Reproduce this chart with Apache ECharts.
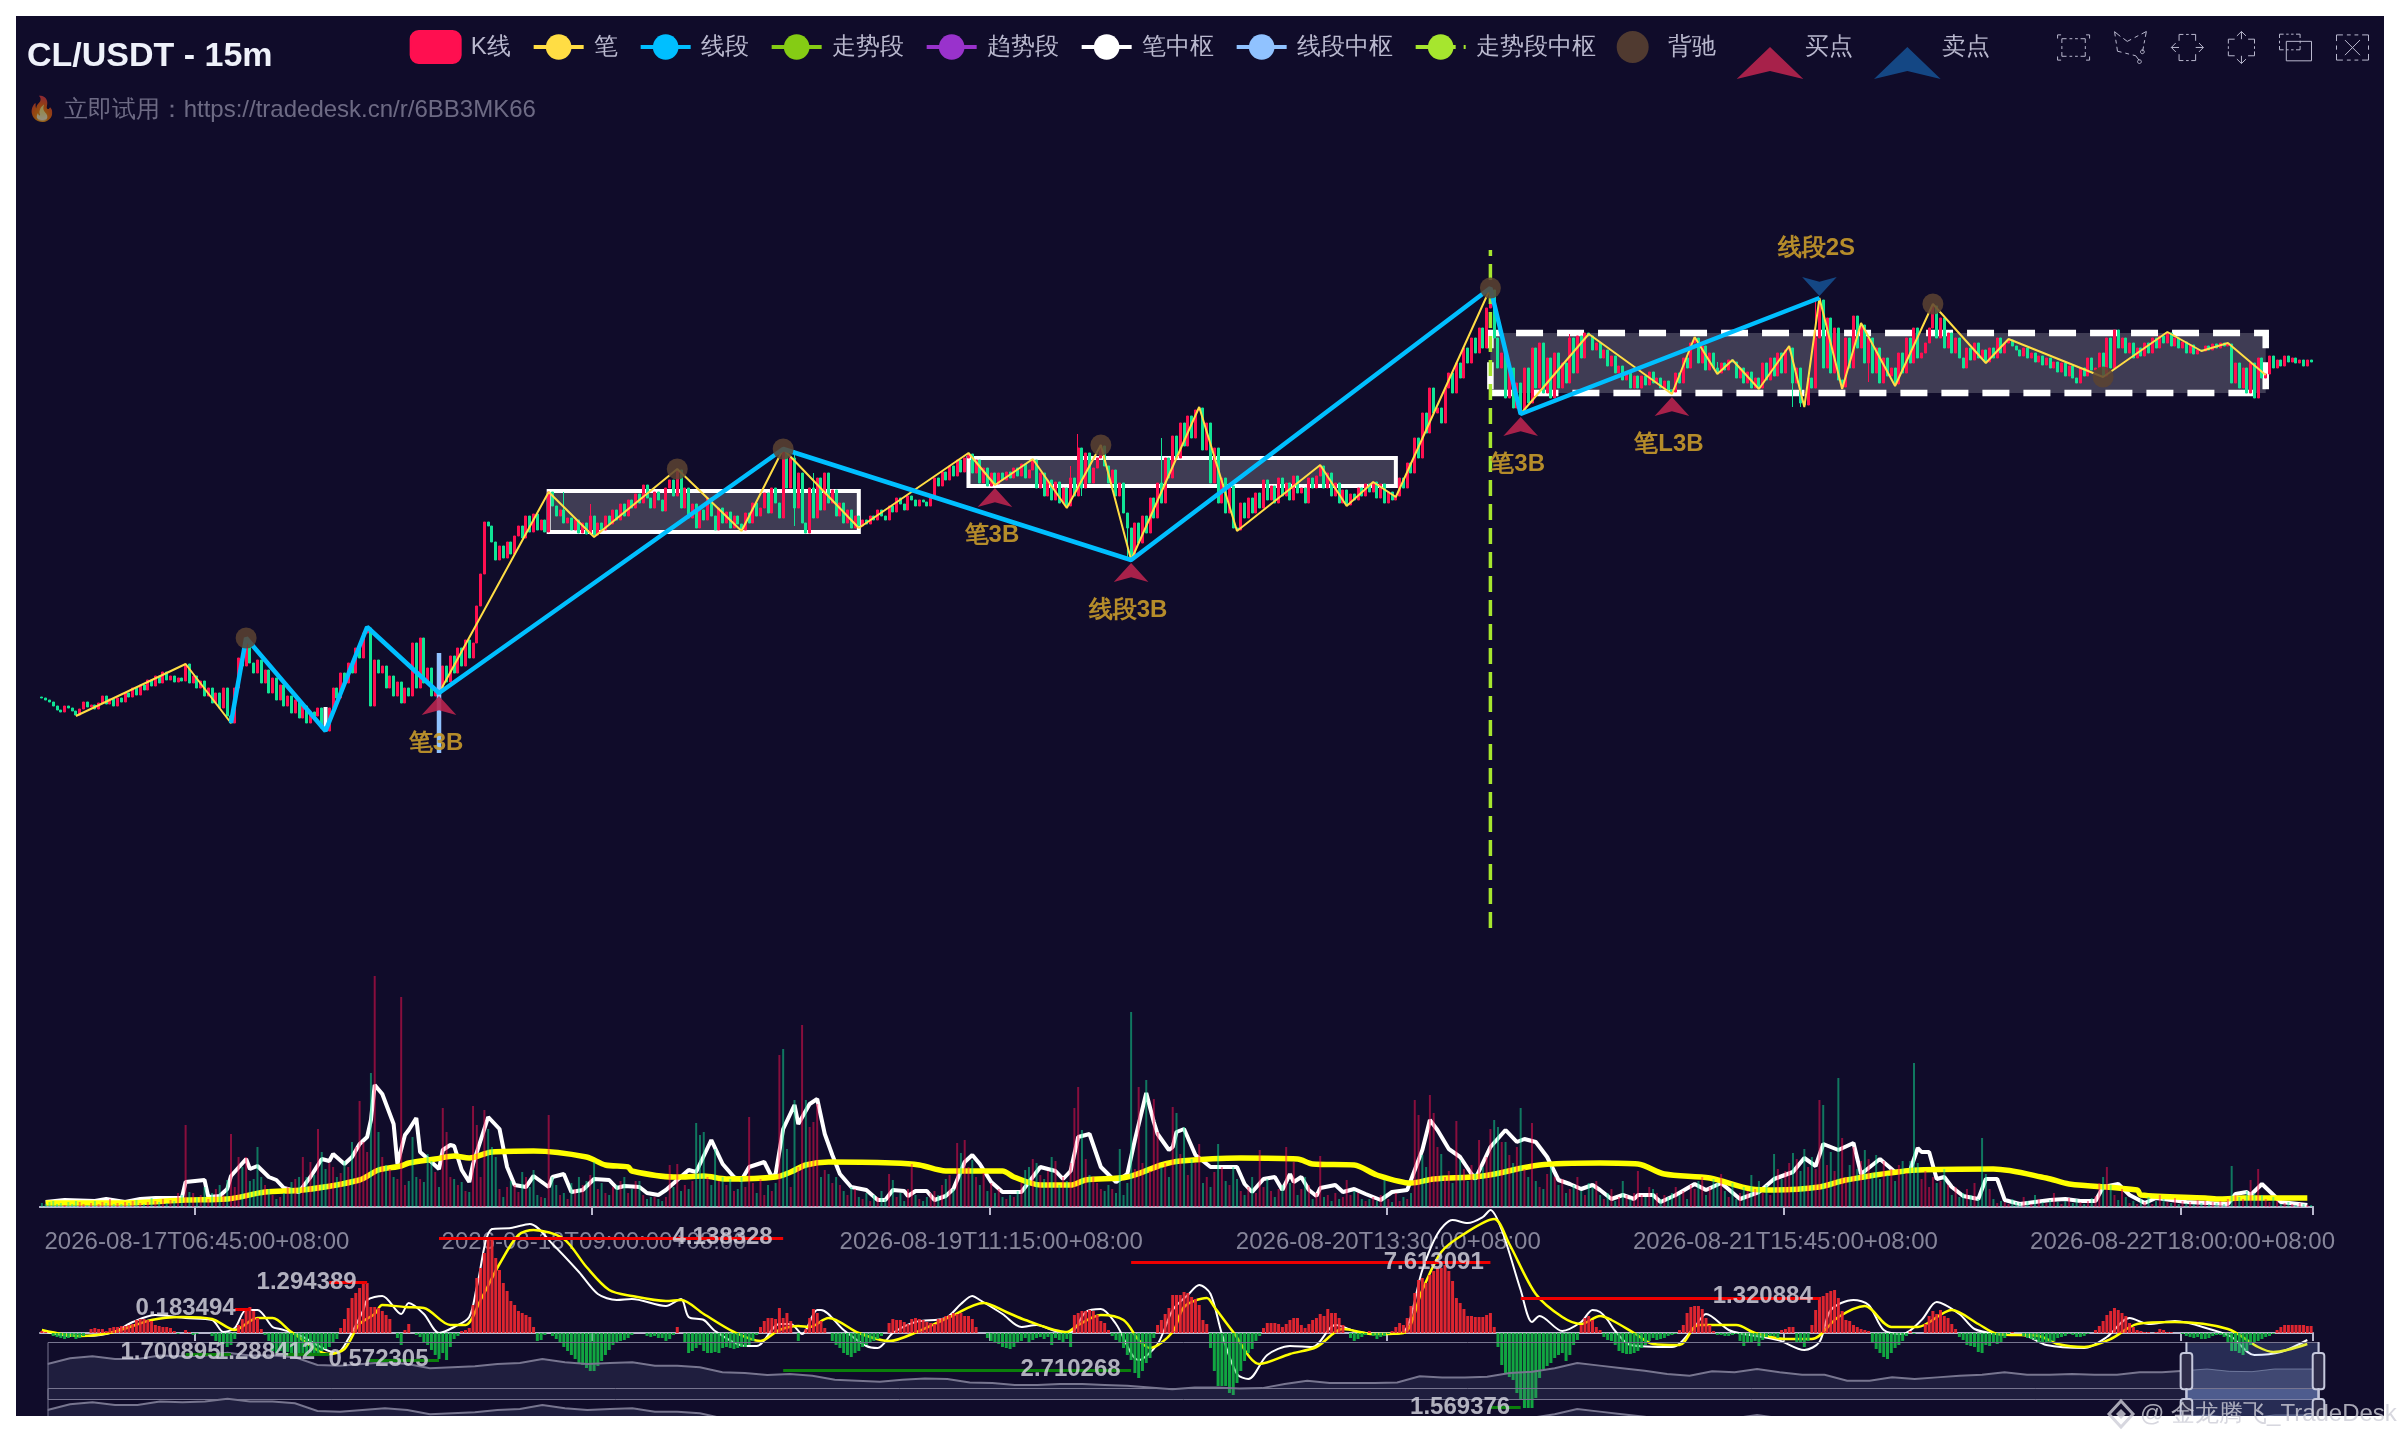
<!DOCTYPE html>
<html><head><meta charset="utf-8">
<style>html,body{margin:0;padding:0;background:#fff}#c{width:2400px;height:1440px}</style>
<script src="https://cdn.jsdelivr.net/npm/echarts@6/dist/echarts.min.js"></script>
</head><body><div id="c"></div>
<script>
// All values are read from the picture. The price axis carries no labels, so units are screen-proportional.
const closes=[
230,228,226,222,218,216,222,220,217,213,
219,226,221,223,219,225,232,224,229,222,
230,226,235,231,240,233,243,238,248,242,
252,245,256,248,252,246,250,247,264,245,
252,240,247,232,240,225,235,220,240,212,
205,240,270,262,285,265,255,268,245,258,
235,250,228,243,222,232,215,228,210,222,
205,216,212,220,200,197,220,240,230,255,
245,265,255,280,270,295,300,222,268,255,
262,240,252,232,246,225,240,232,285,240,
290,245,260,232,240,238,262,246,272,255,
280,262,288,270,285,322,354,406,402,386,
368,382,370,386,374,392,402,390,412,396,
414,398,408,396,436,422,412,418,405,410,
398,408,395,405,394,412,393,405,398,412,
404,418,408,424,412,428,420,434,425,443,
430,420,436,428,417,440,448,432,458,420,
440,410,424,400,418,408,430,412,398,420,
405,416,400,412,404,398,415,405,425,412,
420,435,415,440,425,410,478,440,470,420,
455,405,395,440,410,450,418,455,425,438,
412,425,405,418,400,412,402,408,404,412,
408,418,412,408,422,416,430,424,418,432,
428,422,428,426,422,430,450,442,456,448,
462,452,468,456,470,474,455,468,445,460,
442,455,444,455,448,456,450,460,452,464,
450,458,468,440,455,432,448,428,446,425,
440,422,450,432,480,440,475,445,460,470,
482,462,445,458,432,445,415,400,370,405,
385,412,395,430,410,445,425,470,450,492,
470,505,482,512,490,518,520,478,505,445,
480,425,450,415,442,400,398,425,410,430,
415,435,420,448,428,442,425,450,432,445,
428,452,435,440,425,450,440,452,462,440,
455,432,445,425,438,423,434,428,440,432,
444,436,446,430,444,425,436,428,432,450,
440,465,455,490,470,515,495,540,515,520,
505,540,555,535,565,550,580,565,590,575,
600,580,620,638,590,560,575,530,560,520,
545,516,560,525,580,540,585,535,570,530,
575,540,565,545,590,555,592,570,595,592,
578,585,570,578,562,572,555,562,548,556,
540,552,540,552,543,556,545,550,540,547,
538,536,555,545,570,560,585,590,565,582,
558,575,560,555,565,558,568,566,550,560,
545,556,540,550,540,565,548,570,552,575,
555,578,580,545,560,525,523,550,540,590,
628,560,610,555,600,548,541,590,560,612,
580,603,565,590,555,580,545,570,552,560,
544,575,555,590,565,600,570,575,585,600,
622,590,610,580,595,575,590,570,560,580,
568,585,570,578,566,580,570,590,575,585,
588,582,578,572,580,570,575,566,572,563,
570,560,566,556,565,552,562,550,545,560,
552,570,558,560,575,552,590,560,598,580,
590,575,585,570,580,572,585,575,590,580,
592,585,595,582,590,580,586,575,583,574,
578,577,582,578,584,580,585,582,584,545,
565,540,560,535,565,530,570,550,554,572,
560,568,562,572,566,570,565,568,562,568,
566];
const firstOpen=231;
const wickHigh=[[274,494],[272,462],[138,436],[145,424],[204,455],[199,478],[296,490],[404,594],[469,628],[443,566]];
const wickLow=[[275,432],[287,368],[199,402],[463,521],[465,521],[483,546]];

const volumes=[
4,3,5,6,3,4,2,5,3,6,
5,3,2,4,6,3,5,4,8,3,
4,3,5,4,6,7,4,3,5,9,
6,5,8,4,7,6,14,12,82,15,
14,10,12,20,8,14,18,22,12,27,
73,20,50,40,50,26,28,60,30,22,
18,12,8,10,14,20,25,28,30,50,
30,45,32,78,55,38,44,40,30,34,
46,40,65,60,106,65,55,134,231,75,
50,42,38,30,28,210,22,26,70,30,
28,25,53,46,35,20,99,75,30,28,
22,25,16,15,101,82,30,97,78,60,
50,18,10,20,26,22,15,35,30,20,
37,12,10,9,92,30,22,12,14,8,
24,18,30,22,26,32,45,18,24,14,
12,20,22,26,30,14,18,26,26,12,
8,10,10,8,6,10,42,20,43,16,
22,18,26,84,72,75,30,22,58,26,
30,22,28,16,18,30,20,90,24,14,
28,12,22,16,24,152,158,58,20,107,
40,182,107,80,85,103,30,37,33,24,
30,22,16,12,20,18,10,8,14,6,
12,10,16,8,33,27,10,14,6,18,
43,12,8,6,10,14,16,12,22,28,
32,18,64,54,67,40,47,30,22,34,
16,24,14,18,10,8,12,10,16,24,
37,40,48,44,32,28,36,50,46,22,
30,26,44,99,120,77,48,32,30,24,
18,16,22,18,14,58,12,24,195,38,
120,44,127,36,108,75,40,44,30,100,
94,53,80,32,48,44,63,24,30,20,
35,63,40,26,22,40,28,16,12,20,
30,14,57,20,28,16,10,18,22,60,
24,45,12,18,30,22,8,14,51,10,
12,6,14,8,10,27,12,16,14,8,
6,8,10,6,12,27,8,5,14,6,
10,8,14,107,92,52,40,112,94,60,
53,30,36,24,86,47,38,26,42,34,
67,40,50,78,87,80,65,65,52,44,
60,99,38,30,84,26,20,18,33,40,
30,22,28,14,18,22,30,16,12,24,
20,26,12,8,14,18,6,10,26,12,
8,14,36,12,10,20,18,14,8,12,
10,14,20,12,16,8,22,18,26,30,
12,20,28,24,33,16,10,24,8,14,
20,16,32,18,26,14,22,12,53,38,
28,36,44,54,48,36,58,40,50,38,
107,102,42,55,36,129,69,30,42,60,
38,46,57,48,34,52,28,46,32,38,
26,42,46,34,46,144,44,28,36,20,
30,24,26,38,22,12,20,10,14,18,
12,24,8,69,33,18,8,4,6,5,
3,8,5,4,10,6,3,12,8,5,
4,7,14,5,3,6,9,4,8,5,
3,6,9,11,24,30,40,22,12,7,
18,10,4,6,3,8,5,10,3,6,
12,8,5,4,9,3,6,4,5,3,
7,4,6,3,5,4,6,3,8,41,
12,10,8,16,27,14,38,12,8,5,
10,6,3,4,5,3,2,4,3,2,
2];
const volRedIdx=[38,50,52,54,73,84,88,95,106,107,114,115,117,134,168,187,195,201,204,230,242,244,273,274,290,294,299,306,322,329,338,345,363,364,367,368,374,380,383,394,422,444,470,476,546,586];
const volGreenIdx=[57,74,87,98,102,118,130,146,158,174,175,196,261,285,288,292,300,311,365,385,391,458,463,471,475,482,485,495,513,579];

const volMa5=[[1,5],[6,7],[14,6],[17,8],[22,5],[26,8],[30,9],[37,9],[38,25],[43,27],[44,10],[47,11],[49,18],[50,31],[54,48],[55,38],[57,41],[60,30],[62,27],[64,19],[68,15],[71,30],[74,48],[76,46],[77,53],[80,43],[82,50],[84,63],[86,70],[87,87],[88,122],[90,113],[93,83],[94,43],[96,72],[97,77],[99,89],[100,55],[103,45],[105,38],[106,57],[108,62],[109,61],[111,37],[113,25],[114,43],[118,90],[121,78],[123,40],[125,22],[128,20],[130,31],[134,20],[135,30],[138,33],[140,15],[143,17],[146,28],[150,27],[152,19],[154,21],[158,20],[160,14],[163,12],[165,17],[171,37],[173,35],[177,67],[180,43],[183,30],[185,27],[187,40],[191,45],[193,30],[194,33],[196,78],[199,102],[200,83],[203,103],[205,108],[207,73],[209,52],[211,33],[214,20],[218,17],[221,7],[223,7],[225,17],[228,16],[229,11],[231,16],[234,16],[236,7],[239,11],[241,18],[244,45],[246,52],[248,43],[251,25],[254,15],[259,15],[264,40],[268,36],[270,28],[272,36],[274,70],[277,73],[280,40],[284,25],[287,33],[289,67],[292,114],[294,85],[295,73],[298,57],[299,60],[300,75],[302,78],[305,52],[309,40],[312,40],[316,40],[318,23],[320,15],[323,28],[326,30],[328,17],[330,33],[331,25],[333,30],[335,17],[337,11],[338,19],[342,22],[344,15],[347,18],[350,13],[354,7],[357,15],[361,17],[365,57],[367,87],[369,77],[372,58],[375,50],[378,33],[379,28],[383,60],[387,77],[390,65],[392,68],[395,65],[398,50],[401,27],[404,23],[407,18],[410,22],[412,17],[415,8],[418,12],[421,8],[422,12],[426,12],[428,5],[432,12],[437,23],[440,17],[444,24],[449,8],[454,15],[458,28],[463,35],[466,49],[469,41],[471,63],[475,57],[479,64],[481,33],[486,48],[490,35],[494,37],[496,59],[497,55],[499,55],[501,28],[503,30],[505,20],[508,11],[512,8],[514,28],[517,28],[519,7],[523,3],[531,7],[535,8],[539,6],[543,6],[545,20],[549,23],[552,12],[556,4],[559,9],[567,5],[578,3],[580,13],[583,15],[584,12],[587,23],[592,5],[599,2]];
const volMa60=[[1,4],[22,4],[38,7],[49,8],[59,15],[69,17],[84,27],[89,37],[95,41],[97,44],[104,48],[109,51],[113,49],[119,55],[130,56],[144,50],[149,42],[155,40],[156,36],[167,30],[169,30],[175,31],[181,28],[194,30],[198,35],[202,42],[208,45],[225,44],[232,42],[239,36],[254,36],[257,30],[264,22],[272,22],[276,27],[287,30],[296,42],[301,46],[317,49],[332,48],[336,43],[347,42],[353,32],[362,24],[368,28],[381,31],[396,42],[412,44],[422,43],[429,33],[441,29],[452,18],[458,17],[470,20],[477,27],[496,37],[516,38],[530,29],[536,23],[554,17],[555,12],[572,9],[576,8],[582,9],[599,9]];

const macdHist=[
2,1,0,-3,-4,-5,-6,-5,-4,-6,
-5,-3,0,4,5,4,4,2,5,6,
6,7,7,8,9,13,14,14,13,12,
8,7,6,6,5,2,-1,0,3,1,
-2,-1,0,0,0,-3,-8,-10,-11,-14,
-12,-6,8,14,24,26,22,15,4,-2,
-8,-18,-20,-18,-20,-19,-20,-22,-21,-22,
-22,-21,-22,-20,-18,-16,-14,-10,-6,5,
14,25,35,40,45,50,50,26,26,25,
22,18,14,0,-5,-12,3,9,0,-2,
-4,-10,-12,-17,-22,-26,-20,-27,-14,-6,
-3,2,3,5,28,55,65,80,94,94,
75,63,50,42,32,28,22,20,18,16,
6,-8,-7,-2,0,-3,-6,-10,-14,-18,
-22,-26,-30,-32,-35,-38,-38,-33,-28,-22,
-17,-12,-9,-8,-7,-5,-2,0,0,0,
-3,-4,-3,-5,-5,-8,-6,-2,6,0,
-10,-20,-18,-15,-12,-18,-20,-20,-19,-20,
-15,-14,-15,-16,-15,-14,-14,-12,-8,-2,
6,12,15,15,14,25,15,20,12,0,
-8,0,4,15,24,20,12,5,0,-8,
-12,-15,-20,-22,-24,-20,-18,-14,-12,-10,
-8,-6,-3,0,10,14,13,13,11,9,
14,15,14,13,11,10,9,14,15,17,
18,20,19,20,17,17,14,6,0,0,
-5,-8,-9,-11,-14,-15,-16,-14,-10,-8,
-5,-10,-7,-5,-4,-6,-4,-12,-5,-7,
-10,-6,-14,18,20,22,22,23,22,18,
12,10,3,-3,-7,-10,-15,-22,-27,-40,
-45,-38,-30,-25,-5,8,13,19,25,38,
38,38,41,40,36,34,28,13,9,-15,
-38,-53,-53,-53,-60,-62,-50,-38,-28,-20,
-16,-8,-3,5,10,10,10,9,6,9,
13,15,15,8,5,9,13,15,19,17,
24,20,20,15,8,0,-5,-8,-6,-4,
-2,2,-3,-6,-4,-3,-1,2,6,10,
8,15,27,40,53,55,50,58,62,65,
65,68,62,52,35,30,24,17,17,16,
16,16,18,20,6,-14,-32,-40,-44,-47,
-60,-66,-75,-75,-75,-65,-45,-36,-33,-30,
-25,-22,-20,-28,-22,-12,-7,8,15,17,
13,6,3,-4,-7,-8,-12,-18,-20,-21,
-21,-20,-18,-15,-12,-8,-5,-7,-6,-5,
-3,-2,-1,3,8,20,26,27,27,24,
15,8,2,-2,-2,-3,-3,-2,-1,-8,
-13,-10,-10,-8,-13,-7,-4,-3,-3,-5,
3,4,6,6,-9,-10,-14,-8,8,23,
36,37,40,42,43,35,22,13,12,8,
6,4,3,2,-10,-16,-20,-24,-26,-20,
-15,-12,-8,-3,2,-1,0,0,9,17,
22,19,23,17,15,9,4,-4,-7,-12,
-13,-14,-19,-20,-12,-13,-10,-11,-9,-5,
-1,1,0,0,-3,-5,-6,-7,-9,-10,
-10,-10,-8,-5,-4,-3,-1,-2,-4,-4,
-3,-1,0,3,7,12,18,22,25,23,
20,17,10,6,3,2,1,1,0,1,
4,3,1,1,0,0,-1,-3,-4,-5,
-4,-6,-6,-5,-3,-2,-2,-4,-10,-18,
-18,-20,-22,-18,-12,-10,-8,-6,-4,-3,
-1,3,6,8,8,8,8,8,8,7,
7];
const difLine=[[0,2],[8,-3],[12,-3],[19,1],[24,11],[30,18],[38,15],[45,13],[48,1],[51,5],[54,23],[57,23],[61,6],[63,4],[68,-2],[78,-20],[81,-6],[85,23],[86,33],[90,37],[95,19],[97,30],[101,19],[105,0],[109,6],[113,16],[115,46],[119,104],[124,105],[129,109],[135,89],[142,61],[147,39],[152,33],[156,34],[165,27],[169,34],[171,16],[175,13],[178,2],[186,-13],[189,-13],[195,9],[198,9],[201,-1],[205,23],[206,23],[212,3],[218,-13],[221,-15],[225,0],[231,11],[239,15],[243,29],[246,37],[248,33],[254,19],[259,6],[263,8],[268,2],[272,1],[276,21],[280,24],[284,9],[290,-27],[295,-11],[299,23],[303,38],[306,48],[309,39],[312,-1],[316,-41],[319,-46],[324,-22],[330,-13],[336,-14],[342,8],[348,1],[355,-1],[360,1],[365,63],[369,99],[373,113],[377,110],[381,116],[383,123],[386,103],[391,43],[394,11],[396,17],[402,2],[407,11],[410,23],[412,21],[414,13],[416,2],[420,-12],[431,-14],[437,6],[440,19],[446,3],[450,-1],[459,-7],[466,-17],[470,-9],[473,23],[479,33],[483,28],[487,3],[492,-1],[497,13],[501,31],[507,19],[511,4],[517,-1],[524,-2],[530,-12],[540,-15],[546,-4],[552,15],[557,9],[564,12],[574,3],[579,-4],[585,-22],[592,-19],[599,-7]];
const deaLine=[[0,3],[10,-3],[19,1],[29,13],[37,16],[45,14],[51,3],[57,15],[61,15],[66,1],[76,-21],[80,-16],[84,9],[88,19],[90,28],[96,26],[101,25],[108,8],[112,8],[116,33],[121,69],[126,98],[130,103],[138,94],[144,66],[150,43],[156,37],[165,32],[169,33],[175,19],[183,1],[190,-8],[195,3],[200,7],[203,6],[208,15],[216,0],[224,-8],[232,2],[240,16],[249,30],[255,21],[260,13],[271,1],[274,8],[280,18],[286,13],[290,-7],[293,-15],[299,1],[302,26],[308,35],[310,26],[315,1],[322,-31],[330,-21],[337,-14],[344,4],[352,-1],[360,0],[365,43],[370,81],[376,99],[384,114],[388,89],[395,39],[402,16],[407,9],[412,17],[415,13],[421,0],[426,-11],[433,-12],[438,8],[448,8],[453,0],[461,-6],[468,-6],[475,16],[482,27],[489,6],[496,6],[505,23],[512,9],[517,-1],[528,-3],[533,-11],[540,-14],[547,-6],[554,9],[564,11],[578,4],[586,-14],[590,-19],[599,-11]];

const penPoints=[[9,212],[38,264],[50,205],[54,290],[75,197],[86,301],[105,235],[134,436],[146,391],[168,459],[185,397],[196,479],[216,400],[245,475],[252,443],[262,469],[271,420],[280,483],[288,368],[306,521],[316,397],[338,463],[345,422],[352,446],[358,431],[383,640],[391,514],[409,594],[431,534],[437,591],[443,554],[447,568],[454,539],[462,582],[466,521],[470,630],[476,539],[481,605],[490,542],[500,624],[514,565],[520,589],[545,551],[562,596],[571,577],[578,585],[588,553]];
const segmentPoints=[[50,205],[54,290],[75,197],[86,301],[105,235],[196,479],[288,368],[383,640],[391,514],[470,630]];
const penCenters=[[134,396,216,437],[245,442,358,470]];
const penCenterDashed=[[383,535,588,595]];
const penCenterShort=[[75,221],[75,198]];
const segCenterShort=[[105,275],[105,175]];
const trendCenterLine=[[383,0],[383,678]];
const divergence=[[54,290],[168,459],[196,479],[280,483],[383,640],[500,624],[545,551]];
const buyPoints=[[105,235,'笔3B'],[252,443,'笔3B'],[288,368,'线段3B'],[391,514,'笔3B'],[431,534,'笔L3B']];
const sellPoints=[[470,630,'线段2S']];
const macdLevels=[[51,55,24,'r'],[76,86,51,'r'],[105,196,95,'r'],[288,383,71,'r'],[391,470,35,'r'],[38,50,-21,'g'],[64,76,-21,'g'],[86,105,-27,'g'],[196,288,-37,'g'],[383,391,-74,'g']];
const macdTexts=[[38,25,'0.183494'],[70,51,'1.294389'],[180,96,'4.138328'],[368,71,'7.613091'],[455,37,'1.320884'],[34,-19,'1.700895'],[59,-19,'1.288412'],[89,-26,'0.572305'],[272,-36,'2.710268'],[375,-74,'1.569376']];
const shadowValues=[135,152,158,150,150,160,158,160,168,160,160,155,132,130,135,140,135,122,125,128,135,138,150,140,135,138,140,130,130,125,110,108,102,105,100,88,85,82,88,92,90,80,78,72,72,75,75,72,70,65,60,65,65,62,63,75,85,78,78,78,80,98,95,95,97,108,112,122,138,130,122,115,105,100,113,110,120,110,103,103,85,85,95,90,95,100,103,110,103,103,105,103,103,110,110,115,120,113,112,120,120,120];

const tickBars=[41,146,251,356,461,566];
const barStart=Date.UTC(2026,7,16,20,30);
const pad=n=>String(n).padStart(2,'0');
const categories=closes.map((_,i)=>{const d=new Date(barStart+i*900000);
  return `${d.getUTCFullYear()}-${pad(d.getUTCMonth()+1)}-${pad(d.getUTCDate())}T${pad(d.getUTCHours())}:${pad(d.getUTCMinutes())}:00+08:00`;});
const isTick=i=>tickBars.includes(i);

const UP='#FF0F50',DOWN='#10E495';
const hi=new Map(wickHigh),lo=new Map(wickLow);
const candles=closes.map((c,i)=>{const o=i?closes[i-1]:firstOpen;
  const l=lo.has(i)?lo.get(i):Math.min(o,c);const h=hi.has(i)?hi.get(i):Math.max(o,c);
  return [o,c,Math.min(l,o,c),Math.max(h,o,c)];});
const volData=volumes.map((v,i)=>{
  const up=volRedIdx.includes(i)?true:volGreenIdx.includes(i)?false:closes[i]>=(i?closes[i-1]:firstOpen);
  return {value:v,itemStyle:{color:up?UP:DOWN,opacity:.5}};});

const GL=40,GW=2273;
const grid=[
 {left:GL,width:GW,top:250,height:678},
 {left:GL,width:GW,top:976,height:231},
 {left:GL,width:GW,top:1047,height:160},
 {left:GL,width:GW,top:1200,height:220},
 {left:GL,width:GW,top:1350,height:40}
];
const line={lineStyle:{color:'#B9B8CE',width:2}};
const tick={show:true,length:8,interval:isTick,lineStyle:{color:'#B9B8CE',width:2}};
const xAxis=[
 {type:'category',gridIndex:0,data:categories,show:false},
 {type:'category',gridIndex:1,data:categories,axisLine:line,axisTick:tick,
  axisLabel:{interval:isTick,fontSize:24,color:'#86859A',margin:23,hideOverlap:false}},
 {type:'category',gridIndex:2,position:'top',data:categories,axisLine:line,axisTick:{...tick,inside:true},axisLabel:{show:false}},
 {type:'category',gridIndex:3,data:categories,axisLine:{...line,onZero:true},axisTick:tick,axisLabel:{show:false}},
 {type:'category',gridIndex:4,show:false,data:shadowValues.map((_,i)=>i)}
];
const yBase={show:false,scale:false,splitLine:{show:false}};
const yAxis=[
 {...yBase,gridIndex:0,min:0,max:678},
 {...yBase,gridIndex:1,min:0,max:231},
 {...yBase,gridIndex:2,min:0,max:160},
 {...yBase,gridIndex:3,min:-87,max:133},
 {...yBase,gridIndex:4}
];
const rectArea=(r,st)=>[{xAxis:r[0],yAxis:r[1],itemStyle:st},{xAxis:r[2],yAxis:r[3]}];
const lineSeries=(name,color,width,data,extra)=>Object.assign({type:'line',name,data,showSymbol:false,xAxisIndex:0,yAxisIndex:0,
  itemStyle:{color},lineStyle:{color,width},silent:true},extra||{});
const goldLabel={show:true,position:'inside',fontSize:24,fontWeight:'bold',color:'#C89A2A'};
const series=[
 {type:'candlestick',name:'K线',xAxisIndex:0,yAxisIndex:0,data:candles,large:false,barWidth:2.5,z:3,
  itemStyle:{color:UP,color0:DOWN,borderColor:UP,borderColor0:DOWN,borderWidth:1}},
 lineSeries('笔','#FFDD44',2,penPoints,{z:4}),
 lineSeries('线段','#00BFFF',4.5,segmentPoints,{z:5}),
 lineSeries('走势段','#85CC14',4,[]),
 lineSeries('趋势段','#9932CC',4,[]),
 lineSeries('笔中枢','#FFFFFF',4,penCenterShort,{z:4,markArea:{silent:true,z:1,
   data:penCenters.map(r=>rectArea(r,{color:'rgba(255,255,255,0.2)',borderColor:'#fff',borderWidth:4}))
    .concat(penCenterDashed.map(r=>rectArea(r,{color:'rgba(255,255,255,0.2)',borderColor:'#fff',borderWidth:6.5,borderType:[27,14]})))}}),
 lineSeries('线段中枢','#90C2FF',4.5,segCenterShort,{z:4}),
 lineSeries('走势段中枢','#A6E62E',3.5,trendCenterLine,{z:4,lineStyle:{color:'#A6E62E',width:3.5,type:[16,8]}}),
 {type:'scatter',name:'背驰',xAxisIndex:0,yAxisIndex:0,data:divergence,symbolSize:21,z:6,silent:true,itemStyle:{color:'#5C4331',opacity:.85}},
 {type:'scatter',name:'买点',xAxisIndex:0,yAxisIndex:0,symbol:'arrow',symbolSize:[26,19],symbolOffset:[0,3],z:6,silent:true,
  itemStyle:{color:'#B8234E',opacity:.9},
  data:buyPoints.map(p=>({value:[p[0],p[1]],label:{...goldLabel,formatter:p[2],offset:[-3,38]}}))},
 {type:'scatter',name:'卖点',xAxisIndex:0,yAxisIndex:0,symbol:'arrow',symbolSize:[26,19],symbolRotate:180,symbolOffset:[0,-2],z:6,silent:true,
  itemStyle:{color:'#154E8E',opacity:.9},
  data:sellPoints.map(p=>({value:[p[0],p[1]],label:{...goldLabel,formatter:p[2],offset:[-3,-38]}}))},
 {type:'line',name:'成交量MA5',xAxisIndex:1,yAxisIndex:1,data:volMa5,showSymbol:false,silent:true,z:2,lineStyle:{color:'#fff',width:4},itemStyle:{color:'#fff'}},
 {type:'line',name:'成交量MA60',xAxisIndex:1,yAxisIndex:1,data:volMa60,showSymbol:false,silent:true,z:2,smooth:.3,lineStyle:{color:'#FFFF00',width:5.5},itemStyle:{color:'#FFFF00'}},
 {type:'bar',name:'成交量',xAxisIndex:1,yAxisIndex:1,data:volData,barWidth:2,z:3,silent:true},
 {type:'line',name:'基线',xAxisIndex:2,yAxisIndex:2,data:[[0,0]],showSymbol:false,silent:true,lineStyle:{opacity:0},itemStyle:{opacity:0}},
 {type:'line',name:'DIF',xAxisIndex:3,yAxisIndex:3,data:difLine,showSymbol:false,silent:true,z:2,smooth:.3,lineStyle:{color:'#fff',width:2},itemStyle:{color:'#fff'},
  markLine:{silent:true,symbol:'none',label:{show:false},animation:false,
   data:macdLevels.map(m=>[{xAxis:m[0],yAxis:m[2],lineStyle:{color:m[3]==='r'?'#F00000':'#0B7F0B',width:3,type:'solid'}},{xAxis:m[1],yAxis:m[2]}])}},
 {type:'line',name:'DEA',xAxisIndex:3,yAxisIndex:3,data:deaLine,showSymbol:false,silent:true,z:2,smooth:.3,lineStyle:{color:'#FFFF00',width:2.5},itemStyle:{color:'#FFFF00'}},
 {type:'bar',name:'MACD',xAxisIndex:3,yAxisIndex:3,data:macdHist,barWidth:3,z:3,silent:true,itemStyle:{color:p=>p.value>=0?'#EA2730':'#12AF42',opacity:.95}},
 {type:'scatter',name:'MACD标注',xAxisIndex:3,yAxisIndex:3,symbolSize:1,z:8,silent:true,itemStyle:{color:'transparent'},
  data:macdTexts.map(t=>({value:[t[0],t[1]],label:{show:true,position:'inside',formatter:t[2],fontSize:24,fontWeight:'bold',color:'#D9D9E4'}}))},
 {type:'line',name:'缩略',xAxisIndex:4,yAxisIndex:4,data:shadowValues,showSymbol:false,silent:true,lineStyle:{opacity:0},itemStyle:{opacity:0}}
];
const slider=top=>({type:'slider',xAxisIndex:4,left:45,width:2272,top,height:58,start:94.1,end:100,showDetail:false,moveHandleSize:14,filterMode:'none',brushSelect:false,
  borderColor:'#77758F',handleStyle:{color:'#2F2D4A',borderColor:'#C5C8DC',borderWidth:2},
  dataBackground:{lineStyle:{color:'#77758F',width:2}}});
const chart=echarts.init(document.getElementById('c'),'dark');
chart.setOption({
 animation:false,
 backgroundColor:'#100C2A',
 title:{left:22,top:35,text:'CL/USDT - 15m',subtext:'🔥 立即试用：https://tradedesk.cn/r/6BB3MK66',itemGap:24,
   textStyle:{fontSize:34,fontWeight:'bold',color:'#EEF1FA'},subtextStyle:{fontSize:24,color:'#B9B8CE',opacity:.55}},
 legend:{top:25,left:'center',itemWidth:50,itemHeight:32,itemGap:21,textStyle:{fontSize:24,color:'#B9B8CE',padding:[0,0,3,5]},lineStyle:{width:4},
   data:['K线','笔','线段','走势段','趋势段','笔中枢','线段中枢','走势段中枢','背驰','买点','卖点']},
 toolbox:{right:14,top:14,itemSize:32,itemGap:20,showTitle:false,iconStyle:{borderColor:'#B9B8CE'},feature:{brush:{type:['rect','polygon','lineX','lineY','keep','clear']}}},
 brush:{xAxisIndex:0,toolbox:['rect','polygon','lineX','lineY','keep','clear']},
 grid,xAxis,yAxis,series,
 dataZoom:[slider(1342),slider(1388)],
 graphic:{elements:[
  {type:'rect',z:100,silent:true,shape:{x:0,y:0,width:2400,height:16},style:{fill:'#fff'}},
  {type:'rect',z:100,silent:true,shape:{x:0,y:1416,width:2400,height:24},style:{fill:'#fff'}},
  {type:'rect',z:100,silent:true,shape:{x:0,y:0,width:16,height:1440},style:{fill:'#fff'}},
  {type:'rect',z:100,silent:true,shape:{x:2384,y:0,width:16,height:1440},style:{fill:'#fff'}},
  {type:'polygon',z:101,silent:true,shape:{points:[[2121,1401],[2133,1414],[2121,1427],[2109,1414]]},style:{fill:'none',stroke:'rgba(205,205,215,.8)',lineWidth:3}},
  {type:'polygon',z:101,silent:true,shape:{points:[[2121,1409],[2126,1414],[2121,1419],[2116,1414]]},style:{fill:'rgba(205,205,215,.8)'}},
  {type:'text',z:101,silent:true,x:2140,y:1414,style:{text:'@ 金龙腾飞_TradeDesk',fontSize:24,fill:'rgba(205,205,215,.8)',verticalAlign:'middle',align:'left'}}
 ]}
});
</script></body></html>
